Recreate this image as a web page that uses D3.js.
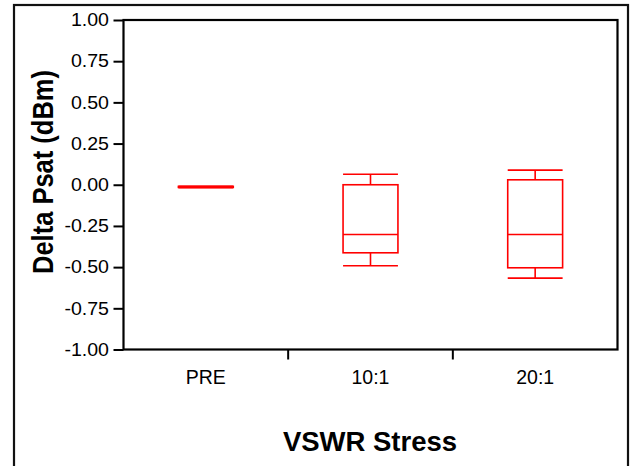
<!DOCTYPE html>
<html>
<head>
<meta charset="utf-8">
<script src="https://cdn.jsdelivr.net/npm/d3@7"></script>
<style>
  html, body { margin: 0; padding: 0; background: #fff; }
  svg { display: block; font-family: "Liberation Sans", Arial, sans-serif; }
</style>
</head>
<body>
<svg id="chart" width="631" height="466"></svg>
<script>
// box plot values (dBm)
const categories = ["PRE", "10:1", "20:1"];
const whiskerLow = [-0.018, -0.492, -0.567];
const q1 = [-0.016, -0.413, -0.504];
const median = [-0.013, -0.302, -0.302];
const q3 = [-0.010, 0.000, 0.030];
const whiskerHigh = [-0.009, 0.064, 0.089];
const yTicks = [1, 0.75, 0.5, 0.25, 0, -0.25, -0.5, -0.75, -1];

const svg = d3.select("#chart");
const plot = { left: 123.5, top: 20, right: 617.5, bottom: 349.5 };

const x = d3.scaleBand()
  .domain(categories)
  .range([plot.left, plot.right])
  .padding(0);

const y = d3.scaleLinear()
  .domain([-1, 1])
  .range([plot.bottom, plot.top]);

// outer frame (runs off the bottom of the picture)
svg.append("rect")
  .attr("x", 14).attr("y", 5)
  .attr("width", 614).attr("height", 520)
  .attr("fill", "none")
  .attr("stroke", "#111")
  .attr("stroke-width", 2.2);

// y axis
const yAxis = svg.append("g")
  .attr("transform", `translate(${plot.left},0)`)
  .call(d3.axisLeft(y)
    .tickValues(yTicks)
    .tickSize(10)
    .tickSizeOuter(0)
    .tickFormat(d => d.toFixed(2)));
yAxis.select(".domain").remove();
yAxis.selectAll("line").attr("stroke", "#000").attr("stroke-width", 2);
yAxis.selectAll("text")
  .attr("x", -14.5 / 1.1)
  .attr("transform", "scale(1.1,1)")
  .attr("fill", "#000")
  .style("font-size", "17.8px");

// x axis: ticks sit between the categories
const xBounds = categories.slice(1).map(c => x(c));
svg.append("g").selectAll("line")
  .data(xBounds)
  .enter().append("line")
    .attr("x1", d => d).attr("x2", d => d)
    .attr("y1", plot.bottom).attr("y2", plot.bottom + 10)
    .attr("stroke", "#000")
    .attr("stroke-width", 2);

svg.append("g").selectAll("text")
  .data(categories)
  .enter().append("text")
    .attr("x", d => x(d) + x.bandwidth() / 2)
    .attr("y", 384)
    .attr("text-anchor", "middle")
    .style("font-size", "19.5px")
    .text(d => d);

// plot frame
svg.append("rect")
  .attr("x", plot.left).attr("y", plot.top)
  .attr("width", plot.right - plot.left)
  .attr("height", plot.bottom - plot.top)
  .attr("fill", "none")
  .attr("stroke", "#000")
  .attr("stroke-width", 2.2);

// boxes
const boxW = x.bandwidth() / 3;
const boxes = svg.append("g")
  .attr("fill", "none")
  .attr("stroke", "#ff0000")
  .attr("stroke-width", 1.6);

categories.forEach((c, i) => {
  const cx = x(c) + x.bandwidth() / 2;
  const x0 = cx - boxW / 2, x1 = cx + boxW / 2;
  const g = boxes.append("g");
  // whisker stems
  g.append("line").attr("x1", cx).attr("x2", cx)
    .attr("y1", y(whiskerHigh[i])).attr("y2", y(q3[i]));
  g.append("line").attr("x1", cx).attr("x2", cx)
    .attr("y1", y(q1[i])).attr("y2", y(whiskerLow[i]));
  // caps
  g.append("line").attr("x1", x0).attr("x2", x1)
    .attr("y1", y(whiskerHigh[i])).attr("y2", y(whiskerHigh[i]));
  g.append("line").attr("x1", x0).attr("x2", x1)
    .attr("y1", y(whiskerLow[i])).attr("y2", y(whiskerLow[i]));
  // box + median
  g.append("rect")
    .attr("x", x0).attr("width", boxW)
    .attr("y", y(q3[i]))
    .attr("height", Math.max(0.5, y(q1[i]) - y(q3[i])));
  g.append("line").attr("x1", x0).attr("x2", x1)
    .attr("y1", y(median[i])).attr("y2", y(median[i]));
});

// axis titles
svg.append("text")
  .attr("transform", "translate(53,172) rotate(-90) scale(1,1.16)")
  .attr("text-anchor", "middle")
  .style("font-size", "25.5px")
  .style("font-weight", "bold")
  .text("Delta Psat (dBm)");

svg.append("text")
  .attr("x", 370)
  .attr("y", 451)
  .attr("text-anchor", "middle")
  .style("font-size", "27.5px")
  .style("font-weight", "bold")
  .text("VSWR Stress");
</script>
</body>
</html>
